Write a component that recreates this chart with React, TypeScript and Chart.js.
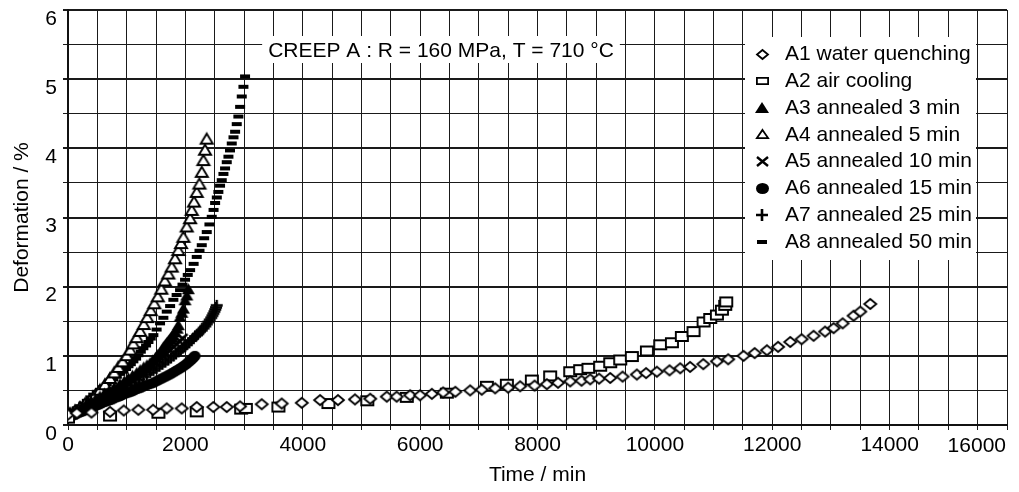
import React, { useEffect, useRef } from 'react';
import { Chart, registerables } from 'chart.js';

Chart.register(...registerables);

const FONT = "'Liberation Sans', Arial, Helvetica, sans-serif";

const CHART_TITLE = 'CREEP A : R = 160 MPa, T = 710 °C';
const X_TITLE = 'Time / min';
const Y_TITLE = 'Deformation / %';

const SERIES_LABELS = [
  'A1 water quenching',
  'A2 air cooling',
  'A3 annealed 3 min',
  'A4 annealed 5 min',
  'A5 annealed 10 min',
  'A6 annealed 15 min',
  'A7 annealed 25 min',
  'A8 annealed 50 min',
];

const X_LABELED_TICKS = [0, 2000, 4000, 6000, 8000, 10000, 12000, 14000, 16000];
const Y_LABELED_TICKS = [0, 1, 2, 3, 4, 5, 6];

// A1 water quenching
const A1_TIME = [0, 150, 400, 716, 950, 1199, 1450, 1682, 1938, 2193, 2477, 2705, 2932, 3301, 3642, 3983, 4295, 4600, 4890, 5150, 5432, 5600, 5830, 6000, 6200, 6392, 6600, 6852, 7050, 7278, 7500, 7705, 7950, 8159, 8350, 8557, 8750, 8898, 9050, 9239, 9450, 9693, 9850, 10034, 10250, 10432, 10600, 10825, 11057, 11250, 11511, 11700, 11909, 12100, 12307, 12500, 12704, 12900, 13045, 13200, 13386, 13500, 13670];
const A1_DEF = [0.15, 0.17, 0.18, 0.19, 0.21, 0.22, 0.22, 0.24, 0.24, 0.26, 0.26, 0.26, 0.27, 0.30, 0.31, 0.32, 0.36, 0.36, 0.37, 0.38, 0.41, 0.41, 0.43, 0.43, 0.45, 0.47, 0.48, 0.50, 0.51, 0.53, 0.54, 0.56, 0.57, 0.59, 0.61, 0.63, 0.64, 0.66, 0.67, 0.68, 0.70, 0.73, 0.75, 0.77, 0.79, 0.82, 0.84, 0.88, 0.92, 0.95, 1.00, 1.04, 1.08, 1.13, 1.20, 1.24, 1.29, 1.35, 1.40, 1.47, 1.58, 1.64, 1.75];

// A2 air cooling
const A2_TIME = [0, 716, 1540, 2193, 2950, 3030, 3585, 4437, 5100, 5773, 6455, 7137, 7478, 7904, 8216, 8557, 8727, 8869, 9068, 9239, 9409, 9608, 9864, 10091, 10290, 10460, 10659, 10830, 10943, 11057, 11142, 11199, 11216];
const A2_DEF = [0.10, 0.13, 0.17, 0.19, 0.23, 0.24, 0.26, 0.31, 0.35, 0.40, 0.46, 0.56, 0.59, 0.65, 0.71, 0.77, 0.80, 0.82, 0.85, 0.90, 0.94, 0.99, 1.07, 1.16, 1.19, 1.28, 1.35, 1.49, 1.54, 1.59, 1.66, 1.73, 1.78];

// A3 annealed 3 min
const A3_TIME = [0, 50, 100, 150, 200, 250, 300, 350, 400, 470, 545, 620, 700, 790, 886, 960, 1030, 1100, 1171, 1230, 1290, 1345, 1398, 1445, 1490, 1530, 1568, 1600, 1625, 1655, 1680, 1710, 1739, 1765, 1790, 1824, 1860, 1880, 1909, 1940, 1966, 1994, 2025, 2051];
const A3_DEF = [0.13, 0.17, 0.19, 0.22, 0.24, 0.27, 0.29, 0.32, 0.34, 0.38, 0.42, 0.46, 0.50, 0.55, 0.60, 0.64, 0.68, 0.72, 0.76, 0.80, 0.84, 0.87, 0.90, 0.94, 0.98, 1.02, 1.05, 1.09, 1.13, 1.16, 1.19, 1.22, 1.25, 1.28, 1.31, 1.35, 1.40, 1.45, 1.57, 1.63, 1.69, 1.81, 1.88, 1.97];

// A4 annealed 5 min
const A4_TIME = [34, 120, 205, 290, 375, 460, 545, 630, 716, 790, 858, 930, 1000, 1060, 1113, 1170, 1230, 1290, 1350, 1410, 1470, 1530, 1590, 1650, 1710, 1767, 1824, 1880, 1926, 1966, 2023, 2080, 2108, 2148, 2193, 2239, 2280, 2307, 2335, 2364];
const A4_DEF = [0.17, 0.21, 0.26, 0.31, 0.36, 0.43, 0.51, 0.59, 0.68, 0.76, 0.84, 0.92, 1.01, 1.09, 1.18, 1.27, 1.36, 1.46, 1.56, 1.66, 1.76, 1.86, 1.97, 2.09, 2.19, 2.29, 2.41, 2.53, 2.63, 2.72, 2.87, 2.99, 3.11, 3.23, 3.37, 3.49, 3.66, 3.83, 3.98, 4.14];

// A5 annealed 10 min
const A5_TIME = [0, 34, 90, 150, 220, 300, 370, 450, 520, 600, 680, 750, 830, 900, 980, 1050, 1120, 1200, 1280, 1350, 1430, 1500, 1560, 1620, 1680, 1740, 1800, 1850, 1900, 1950];
const A5_DEF = [0.11, 0.14, 0.17, 0.19, 0.22, 0.25, 0.28, 0.31, 0.35, 0.38, 0.42, 0.45, 0.49, 0.52, 0.56, 0.60, 0.64, 0.69, 0.74, 0.79, 0.85, 0.90, 0.94, 0.99, 1.03, 1.08, 1.13, 1.17, 1.21, 1.25];

// A6 annealed 15 min
const A6_TIME = [0, 30, 60, 95, 130, 165, 200, 235, 270, 305, 340, 375, 410, 445, 480, 515, 550, 585, 620, 655, 690, 725, 760, 795, 830, 865, 900, 935, 970, 1005, 1040, 1075, 1110, 1145, 1180, 1215, 1250, 1285, 1320, 1355, 1390, 1425, 1460, 1495, 1530, 1565, 1600, 1635, 1670, 1705, 1740, 1770, 1800, 1830, 1860, 1890, 1920, 1945, 1970, 1995, 2020, 2040, 2060, 2080, 2100, 2120, 2135, 2150, 2165];
const A6_DEF = [0.10, 0.12, 0.13, 0.14, 0.15, 0.17, 0.18, 0.19, 0.20, 0.22, 0.23, 0.24, 0.25, 0.27, 0.28, 0.29, 0.30, 0.32, 0.33, 0.34, 0.35, 0.36, 0.37, 0.39, 0.40, 0.41, 0.42, 0.44, 0.45, 0.46, 0.47, 0.48, 0.49, 0.51, 0.52, 0.53, 0.54, 0.56, 0.57, 0.58, 0.59, 0.60, 0.61, 0.63, 0.64, 0.66, 0.67, 0.69, 0.70, 0.72, 0.73, 0.75, 0.76, 0.78, 0.79, 0.81, 0.82, 0.84, 0.85, 0.87, 0.88, 0.90, 0.91, 0.93, 0.94, 0.96, 0.97, 0.99, 1.00];

// A7 annealed 25 min
const A7_TIME = [0, 34, 90, 150, 230, 318, 400, 480, 570, 659, 740, 830, 910, 1000, 1070, 1140, 1210, 1284, 1340, 1400, 1455, 1511, 1560, 1610, 1660, 1710, 1755, 1800, 1840, 1880, 1915, 1950, 1985, 2023, 2060, 2100, 2130, 2165, 2195, 2220, 2250, 2279, 2310, 2340, 2365, 2392, 2415, 2440, 2460, 2477, 2495, 2510, 2522, 2534];
const A7_DEF = [0.11, 0.14, 0.17, 0.19, 0.22, 0.26, 0.30, 0.33, 0.37, 0.41, 0.44, 0.48, 0.51, 0.55, 0.58, 0.62, 0.66, 0.70, 0.73, 0.76, 0.79, 0.82, 0.85, 0.88, 0.91, 0.94, 0.97, 1.00, 1.03, 1.06, 1.08, 1.11, 1.13, 1.16, 1.19, 1.22, 1.25, 1.28, 1.30, 1.32, 1.35, 1.37, 1.40, 1.43, 1.46, 1.49, 1.52, 1.55, 1.58, 1.61, 1.64, 1.67, 1.70, 1.73];

// A8 annealed 50 min
const A8_TIME = [0, 34, 90, 150, 200, 261, 320, 380, 430, 489, 545, 600, 660, 716, 770, 830, 890, 943, 990, 1030, 1070, 1113, 1160, 1200, 1240, 1284, 1330, 1370, 1410, 1454, 1510, 1568, 1625, 1682, 1740, 1795, 1850, 1909, 1950, 1994, 2040, 2080, 2140, 2193, 2240, 2279, 2320, 2364, 2410, 2449, 2480, 2506, 2535, 2562, 2590, 2619, 2648, 2676, 2705, 2733, 2760, 2790, 2820, 2847, 2875, 2903, 2932, 2960, 2989, 3017];
const A8_DEF = [0.12, 0.17, 0.20, 0.24, 0.27, 0.31, 0.35, 0.40, 0.44, 0.48, 0.51, 0.55, 0.59, 0.63, 0.66, 0.70, 0.74, 0.77, 0.81, 0.85, 0.88, 0.92, 0.96, 1.01, 1.06, 1.11, 1.15, 1.20, 1.25, 1.30, 1.38, 1.47, 1.55, 1.64, 1.72, 1.81, 1.88, 1.95, 2.03, 2.10, 2.17, 2.24, 2.33, 2.43, 2.52, 2.60, 2.70, 2.79, 2.90, 3.01, 3.11, 3.21, 3.29, 3.37, 3.46, 3.54, 3.63, 3.71, 3.80, 3.88, 3.97, 4.07, 4.16, 4.24, 4.35, 4.46, 4.60, 4.75, 4.89, 5.04];

const SERIES_TIMES = [A1_TIME, A2_TIME, A3_TIME, A4_TIME, A5_TIME, A6_TIME, A7_TIME, A8_TIME];
const SERIES_DEFS = [A1_DEF, A2_DEF, A3_DEF, A4_DEF, A5_DEF, A6_DEF, A7_DEF, A8_DEF];

type Kind = 'diamond' | 'square' | 'triFill' | 'triOpen' | 'xcross' | 'circle' | 'plus' | 'dash';
const MARKER_KINDS: Kind[] = ['diamond', 'square', 'triFill', 'triOpen', 'xcross', 'circle', 'plus', 'dash'];
// [width, height, line width] for plot markers and legend markers
const PLOT_MARKER_SIZE: Record<Kind, [number, number, number]> = {
  diamond: [12, 10, 1.8],
  square: [14, 11, 1.9],
  triFill: [13, 11, 1],
  triOpen: [14, 12, 1.9],
  xcross: [10, 9, 2.4],
  circle: [11, 10, 1],
  plus: [12, 11, 2.4],
  dash: [10, 4, 1],
};
const LEGEND_MARKER_SIZE: Record<Kind, [number, number, number]> = {
  diamond: [11, 9, 1.8],
  square: [13, 8, 1.8],
  triFill: [14, 11, 1],
  triOpen: [13, 10, 1.8],
  xcross: [11, 9, 2.4],
  circle: [13, 11, 1],
  plus: [12, 12, 2.6],
  dash: [10, 4, 1],
};

function makeMarker(kind: Kind, w: number, h: number, lw: number): HTMLCanvasElement {
  const pad = 2;
  const c = document.createElement('canvas');
  c.width = w + 2 * pad;
  c.height = h + 2 * pad;
  const g = c.getContext('2d') as CanvasRenderingContext2D;
  g.translate(pad, pad);
  g.lineWidth = lw;
  g.strokeStyle = '#000';
  g.fillStyle = '#fff';
  g.lineJoin = 'miter';
  g.beginPath();
  switch (kind) {
    case 'diamond':
      g.moveTo(w / 2, 0); g.lineTo(w, h / 2); g.lineTo(w / 2, h); g.lineTo(0, h / 2); g.closePath();
      g.fill(); g.stroke();
      break;
    case 'square':
      g.rect(lw / 2, lw / 2, w - lw, h - lw);
      g.fill(); g.stroke();
      break;
    case 'triFill':
      g.moveTo(w / 2, 0); g.lineTo(w, h); g.lineTo(0, h); g.closePath();
      g.fillStyle = '#000'; g.fill();
      break;
    case 'triOpen':
      g.moveTo(w / 2, lw / 2); g.lineTo(w - lw / 2, h - lw / 2); g.lineTo(lw / 2, h - lw / 2); g.closePath();
      g.fill(); g.stroke();
      break;
    case 'xcross':
      g.moveTo(0, 0); g.lineTo(w, h); g.moveTo(w, 0); g.lineTo(0, h);
      g.stroke();
      break;
    case 'circle':
      g.ellipse(w / 2, h / 2, w / 2, h / 2, 0, 0, Math.PI * 2);
      g.fillStyle = '#000'; g.fill();
      break;
    case 'plus':
      g.moveTo(w / 2, 0); g.lineTo(w / 2, h); g.moveTo(0, h / 2); g.lineTo(w, h / 2);
      g.stroke();
      break;
    case 'dash':
      g.fillStyle = '#000'; g.fillRect(0, 0, w, h);
      break;
  }
  return c;
}

const overlayPlugin = {
  id: 'overlay',
  afterDraw(chart: any) {
    const ctx: CanvasRenderingContext2D = chart.ctx;
    const legendMarkers: HTMLCanvasElement[] = chart.options.plugins.overlay.legendMarkers;
    ctx.save();
    ctx.font = `21px ${FONT}`;
    // title box
    const tw = ctx.measureText(CHART_TITLE).width;
    const tcx = 441;
    ctx.fillStyle = '#fff';
    ctx.fillRect(tcx - tw / 2 - 6, 36, tw + 12, 27);
    ctx.fillStyle = '#000';
    ctx.textAlign = 'center';
    ctx.textBaseline = 'middle';
    ctx.fillText(CHART_TITLE, tcx, 51);

    // legend box
    ctx.fillStyle = '#fff';
    ctx.fillRect(745, 37, 231, 223);
    ctx.textAlign = 'left';
    chart.data.datasets.forEach((ds: any, i: number) => {
      const cy = 54 + i * 26.8;
      const m = legendMarkers[i];
      ctx.drawImage(m, Math.round(762 - m.width / 2), Math.round(cy - m.height / 2));
      ctx.fillStyle = '#000';
      ctx.fillText(ds.label, 785, cy + 0.5);
    });

    // last x label, kept inside the canvas
    ctx.textAlign = 'right';
    ctx.fillText(String(X_LABELED_TICKS[X_LABELED_TICKS.length - 1]), 1006, 446);
    ctx.restore();
  },
};

export default function App() {
  const ref = useRef<HTMLCanvasElement | null>(null);
  useEffect(() => {
    if (!ref.current) return;
    const plotMarkers = MARKER_KINDS.map((k) => makeMarker(k, ...PLOT_MARKER_SIZE[k]));
    const legendMarkers = MARKER_KINDS.map((k) => makeMarker(k, ...LEGEND_MARKER_SIZE[k]));
    const datasets = SERIES_LABELS.map((label, i) => ({
      label,
      data: SERIES_TIMES[i].map((t, j) => ({ x: t, y: SERIES_DEFS[i][j] })),
      showLine: false,
      pointStyle: plotMarkers[i] as any,
      pointRadius: 5,
      pointHoverRadius: 5,
      borderColor: '#000',
      backgroundColor: '#000',
    }));
    const lastX = X_LABELED_TICKS[X_LABELED_TICKS.length - 1];
    const chart = new Chart(ref.current, {
      type: 'scatter',
      data: { datasets },
      plugins: [overlayPlugin as any],
      options: {
        responsive: false,
        animation: false,
        devicePixelRatio: 1,
        events: [],
        layout: { padding: { left: 0, right: 12, top: 10, bottom: 0 } },
        plugins: {
          legend: { display: false },
          tooltip: { enabled: false },
          title: { display: false },
          overlay: { legendMarkers },
        } as any,
        scales: {
          x: {
            type: 'linear',
            min: 0,
            max: lastX,
            ticks: {
              stepSize: 500,
              autoSkip: false,
              maxRotation: 0,
              minRotation: 0,
              padding: 3,
              color: '#000',
              font: { size: 21, family: FONT },
              callback: (v: any) => (X_LABELED_TICKS.includes(v) && v !== lastX ? String(v) : ''),
            },
            grid: { color: '#1a1a1a', lineWidth: 1, tickLength: 5, drawTicks: true },
            border: { color: '#111', width: 2 },
            title: {
              display: true,
              text: X_TITLE,
              color: '#000',
              font: { size: 21, family: FONT },
              padding: { top: 0, bottom: 4 },
            },
            afterFit: (s: any) => {
              s.height = 67;
              s.paddingLeft = 0;
              s.paddingRight = 0;
            },
          },
          y: {
            type: 'linear',
            min: 0,
            max: 6,
            ticks: {
              stepSize: 0.5,
              autoSkip: false,
              padding: 6,
              labelOffset: 9,
              color: '#000',
              font: { size: 21, family: FONT },
              callback: (v: any) => (Y_LABELED_TICKS.includes(v) ? String(v) : ''),
            },
            grid: {
              color: '#1a1a1a',
              lineWidth: (c: any) => (c.tick && Number.isInteger(c.tick.value) ? 2 : 1),
              tickLength: 5,
              drawTicks: true,
            },
            border: { color: '#111', width: 2 },
            title: {
              display: true,
              text: Y_TITLE,
              color: '#000',
              font: { size: 21, family: FONT },
              padding: { top: 10, bottom: 0 },
            },
            afterFit: (s: any) => {
              s.width = 68;
              s.paddingTop = 0;
              s.paddingBottom = 0;
            },
          },
        },
      },
    });
    return () => chart.destroy();
  }, []);

  return (
    <div style={{ position: 'fixed', left: 0, top: 0, width: 1019, height: 492, background: '#fff' }}>
      <canvas ref={ref} width={1019} height={492} style={{ display: 'block' }} />
    </div>
  );
}
